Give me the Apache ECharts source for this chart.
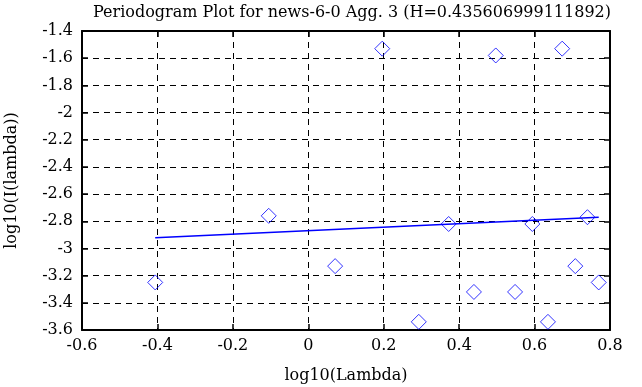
<!DOCTYPE html>
<html>
<head>
<meta charset="utf-8">
<script src="https://cdn.jsdelivr.net/npm/echarts@6/dist/echarts.min.js"></script>
<style>html,body{margin:0;padding:0;background:#fff;}#c{width:642px;height:387px;}</style>
</head>
<body>
<div id="c"></div>
<script>
var titleText = 'Periodogram Plot for news-6-0 Agg. 3 (H=0.435606999111892)';
var xName = 'log10(Lambda)';
var yName = 'log10(I(lambda))';
var logLambda = [-0.4059, -0.1049, 0.0712, 0.1961, 0.2930, 0.3722, 0.4392, 0.4971, 0.5483, 0.5941, 0.6355, 0.6732, 0.7080, 0.7402, 0.7701];
var logI = [-3.25, -2.76, -3.13, -1.53, -3.54, -2.82, -3.32, -1.58, -3.32, -2.82, -3.54, -1.53, -3.13, -2.77, -3.25];
var fitX = [-0.4059, 0.7701];
var fitY = [-2.921, -2.771];

var font = 'DejaVu Serif, serif';
var chart = echarts.init(document.getElementById('c'), null, {renderer: 'canvas'});
var pts = logLambda.map(function (x, i) { return [x, logI[i]]; });
var fit = fitX.map(function (x, i) { return [x, fitY[i]]; });
var axCommon = {
  type: 'value',
  axisLine: {show: true, onZero: false, lineStyle: {color: '#000', width: 2}},
  axisTick: {show: true, inside: true, length: 6, lineStyle: {color: '#000', width: 1.5}},
  axisLabel: {color: '#000', fontFamily: font, fontSize: 16},
  splitLine: {show: true, lineStyle: {color: '#000', type: [6, 5], width: 1}}
};
function ax(extra) { return Object.assign({}, JSON.parse(JSON.stringify(axCommon)), extra); }
chart.setOption({
  animation: false,
  backgroundColor: '#fff',
  title: {
    text: titleText, left: 347, top: 0, textAlign: 'center',
    textStyle: {fontFamily: font, fontSize: 16, fontWeight: 'normal', color: '#000'}
  },
  grid: {left: 82, right: 32, top: 31, bottom: 57, containLabel: false, outerBoundsMode: 'none'},
  xAxis: [
    ax({min: -0.6, max: 0.8, interval: 0.2, position: 'bottom',
        name: xName, nameLocation: 'middle', nameGap: 38,
        nameTextStyle: {fontFamily: font, fontSize: 16, color: '#000'},
        axisLabel: {color: '#000', fontFamily: font, fontSize: 16, margin: 8}}),
    ax({min: -0.6, max: 0.8, interval: 0.2, position: 'top',
        axisLabel: {show: false}, splitLine: {show: false}})
  ],
  yAxis: [
    ax({min: -3.6, max: -1.4, interval: 0.2, position: 'left',
        name: yName, nameLocation: 'middle', nameGap: 62,
        nameTextStyle: {fontFamily: font, fontSize: 16, color: '#000'},
        axisLabel: {color: '#000', fontFamily: font, fontSize: 16, margin: 9}}),
    ax({min: -3.6, max: -1.4, interval: 0.2, position: 'right',
        axisLabel: {show: false}, splitLine: {show: false}})
  ],
  series: [
    {
      type: 'scatter', xAxisIndex: 0, yAxisIndex: 0, data: pts,
      symbol: 'diamond', symbolSize: 15,
      itemStyle: {color: 'rgba(255,255,255,0)', borderColor: '#0000ff', borderWidth: 1}
    },
    {
      type: 'line', xAxisIndex: 0, yAxisIndex: 0, data: fit,
      showSymbol: false, symbol: 'none',
      lineStyle: {color: '#0000ff', width: 1.5}
    }
  ]
});
</script>
</body>
</html>
